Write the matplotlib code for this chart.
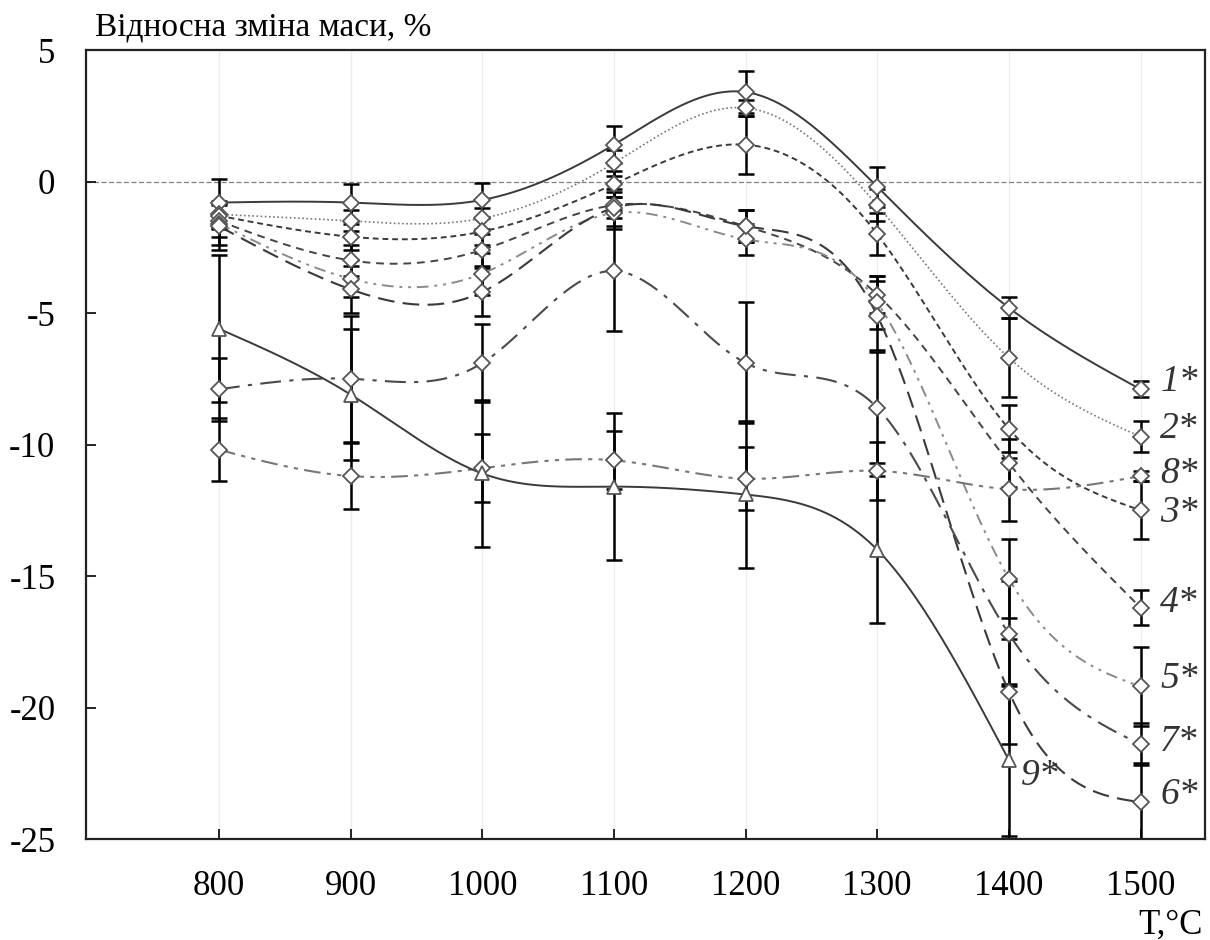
import numpy as np
import matplotlib
matplotlib.use("Agg")
import matplotlib.pyplot as plt

plt.rcParams['font.family'] = ['Liberation Serif', 'DejaVu Serif']

# data
temps = [800, 900, 1000, 1100, 1200, 1300, 1400, 1500]

s1 = [-0.8, -0.8, -0.7, 1.4, 3.4, -0.2, -4.8, -7.9]
s2 = [-1.25, -1.5, -1.4, 0.7, 2.8, -0.9, -6.7, -9.7]
s3 = [-1.3, -2.1, -1.9, -0.1, 1.4, -2.0, -9.4, -12.5]
s4 = [-1.5, -3.0, -2.6, -0.9, -1.7, -4.3, -10.7, -16.2]
s5 = [-1.6, -3.7, -3.5, -1.2, -2.2, -4.6, -15.1, -19.2]
s6 = [-1.7, -4.1, -4.2, -1.0, -1.7, -5.1, -19.4, -23.6]
s7 = [-7.9, -7.5, -6.9, -3.4, -6.9, -8.6, -17.2, -21.4]
s8 = [-10.2, -11.2, -10.9, -10.6, -11.3, -11.0, -11.7, -11.2]
s9 = [-5.6, -8.1, -11.1, -11.6, -11.9, -14.0, -22.0]

e1 = [0.9, 0.7, 0.65, 0.7, 0.8, 0.75, 0.4, 0.3]
e2 = [0.5, 0.4, 0.4, 0.5, 0.3, 0.6, 1.5, 0.6]
e3 = [0.5, 0.5, 0.5, 0.5, 1.1, 0.8, 0.9, 1.1]
e4 = [0.6, 0.6, 0.6, 0.5, 0.6, 0.7, 0.9, 0.65]
e5 = [0.8, 0.7, 0.8, 0.6, 0.6, 1.0, 1.5, 1.5]
e6 = [0.9, 0.9, 0.9, 0.7, 0.6, 1.3, 2.0, 1.5]
e7 = [1.2, 2.4, 1.5, 2.3, 2.3, 2.1, 2.0, 0.8]
e8 = [1.2, 1.25, 1.3, 1.1, 1.2, 1.1, 1.2, 0.2]
e9 = [2.8, 2.5, 2.8, 2.8, 2.8, 2.8, 2.9]

labels = ['1*', '2*', '3*', '4*', '5*', '6*', '7*', '8*', '9*']
label_y = [-7.6, -9.4, -12.6, -16.0, -18.9, -23.3, -21.3, -11.1, -22.6]


def natural_spline(x, y, n=300):
    # natural cubic spline through the points (for smooth connecting curves)
    x = np.asarray(x, float)
    y = np.asarray(y, float)
    k = len(x)
    h = np.diff(x)
    A = np.zeros((k, k))
    b = np.zeros(k)
    A[0, 0] = A[-1, -1] = 1
    for i in range(1, k - 1):
        A[i, i - 1] = h[i - 1]
        A[i, i] = 2 * (h[i - 1] + h[i])
        A[i, i + 1] = h[i]
        b[i] = 6 * ((y[i + 1] - y[i]) / h[i] - (y[i] - y[i - 1]) / h[i - 1])
    M = np.linalg.solve(A, b)
    xs = np.linspace(x[0], x[-1], n)
    idx = np.clip(np.searchsorted(x, xs) - 1, 0, k - 2)
    x0, x1 = x[idx], x[idx + 1]
    hh = x1 - x0
    t0 = x1 - xs
    t1 = xs - x0
    ys = (M[idx] * t0**3 + M[idx + 1] * t1**3) / (6 * hh) \
        + (y[idx] / hh - M[idx] * hh / 6) * t0 \
        + (y[idx + 1] / hh - M[idx + 1] * hh / 6) * t1
    return xs, ys


series = [s1, s2, s3, s4, s5, s6, s7, s8, s9]
errs = [e1, e2, e3, e4, e5, e6, e7, e8, e9]
styles = [
    dict(color='#3a3a3a', ls='-', lw=1.4),
    dict(color='#777777', ls=(0, (1, 1.5)), lw=1.2),
    dict(color='#3a3a3a', ls=(0, (3, 2)), lw=1.4),
    dict(color='#444444', ls=(0, (4, 3)), lw=1.4),
    dict(color='#8a8a8a', ls=(0, (6, 3, 1.5, 3, 1.5, 3)), lw=1.4),
    dict(color='#3a3a3a', ls=(0, (8, 4)), lw=1.5),
    dict(color='#4a4a4a', ls=(0, (10, 4, 2, 4)), lw=1.5),
    dict(color='#777777', ls=(0, (8, 3, 2, 3, 2, 3)), lw=1.5),
    dict(color='#3a3a3a', ls='-', lw=1.4),
]

fig = plt.figure(figsize=(12.1, 9.4), dpi=100)
ax = fig.add_axes([0.0711, 0.1074, 0.9248, 0.8394])

for xt in temps:
    ax.axvline(xt, color='#ececec', lw=1, zorder=0)
ax.axhline(0, color='#808080', ls=(0, (4, 2)), lw=0.9, zorder=1)

for i, (ys, er) in enumerate(zip(series, errs)):
    xs = temps[:len(ys)]
    ax.errorbar(xs, ys, yerr=er, fmt='none', ecolor='black', elinewidth=1.8,
                capsize=6, capthick=1.8, zorder=2)
for i, ys in enumerate(series):
    xs = temps[:len(ys)]
    cx, cy = natural_spline(xs, ys)
    ax.plot(cx, cy, zorder=3, **styles[i])
    mk = '^' if i == 8 else 'D'
    ms = 10 if i == 8 else 8
    ax.plot(xs, ys, ls='none', marker=mk, ms=ms, mfc='white',
            mec='#555555', mew=1.3, zorder=4)

for i, lab in enumerate(labels):
    xpos = 1423 if lab == '9*' else 1515
    ax.text(xpos, label_y[i], lab, fontsize=27, style='italic',
            color='#333333', ha='left' if lab != '9*' else 'center', va='center')

ax.set_xlim(699, 1549)
ax.set_ylim(-25, 5)
ax.set_xticks(temps)
ax.set_yticks([5, 0, -5, -10, -15, -20, -25])
ax.set_yticklabels(['5', '0', '-5', '-10', '-15', '-20', '-25'])
ax.tick_params(direction='in', length=7, width=1.2, labelsize=25, pad=22)
for sp in ax.spines.values():
    sp.set_linewidth(1.6)
    sp.set_color('#222222')

fig.text(95 / 1210, 1 - 27 / 940, 'Відносна зміна маси, %', fontsize=24,
         ha='left', va='center')
fig.text(1203 / 1210, 1 - 925 / 940, 'T,°C', fontsize=25, ha='right', va='center')

plt.savefig('out.png', dpi=100)
